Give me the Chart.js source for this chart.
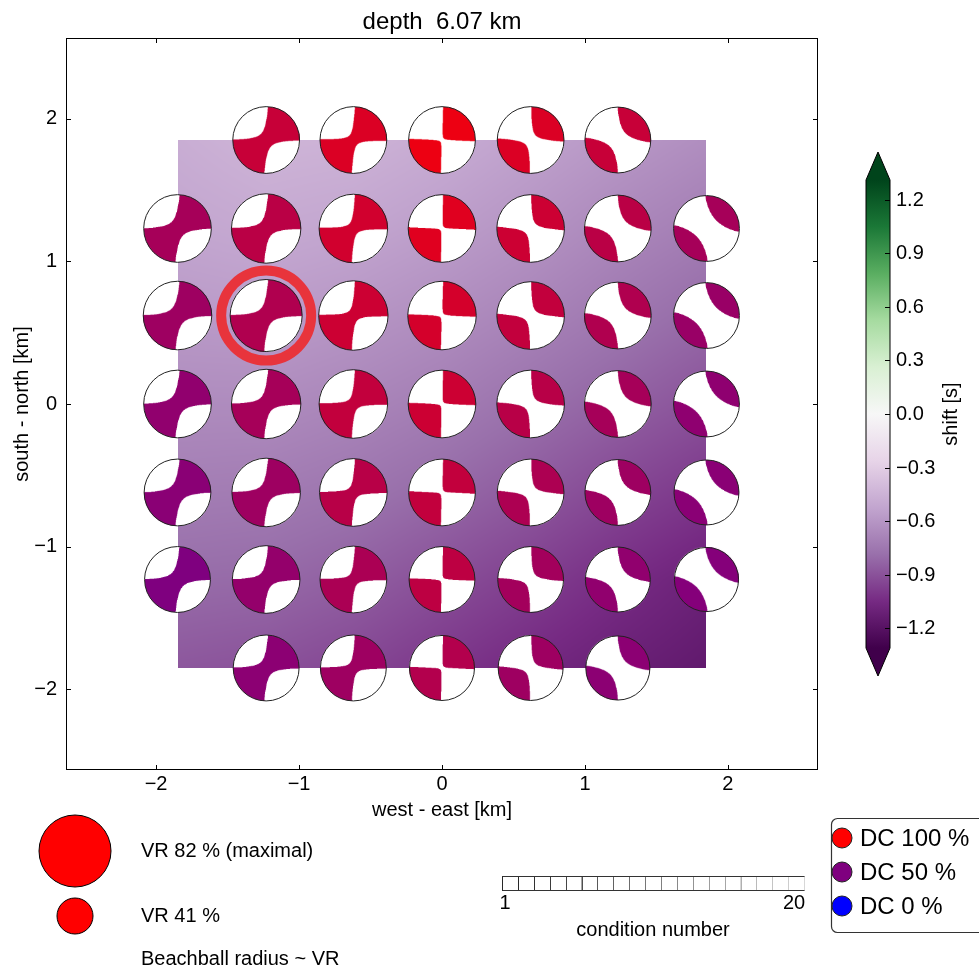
<!DOCTYPE html>
<html>
<head>
<meta charset="utf-8">
<script src="https://cdn.jsdelivr.net/npm/chart.js@4.4.1/dist/chart.umd.min.js"></script>
<style>
  html, body { margin: 0; padding: 0; background: #fff; }
  canvas { display: block; }
</style>
</head>
<body>
<canvas id="grid-search" width="979" height="971"></canvas>
<script>
// grid of trial source positions [km]
const gridX = [-1.85, -1.23, -0.62, 0, 0.62, 1.23, 1.85];
const gridY = [1.85, 1.23, 0.62, 0, -0.62, -1.23, -1.85];

// time shift at each grid point [s], rows from north to south
const shiftGrid = [
  [-0.48, -0.44, -0.45, -0.49, -0.54, -0.59, -0.64],
  [-0.52, -0.50, -0.52, -0.56, -0.61, -0.67, -0.72],
  [-0.58, -0.57, -0.60, -0.64, -0.69, -0.75, -0.81],
  [-0.65, -0.65, -0.68, -0.72, -0.78, -0.84, -0.90],
  [-0.72, -0.73, -0.76, -0.81, -0.87, -0.94, -1.00],
  [-0.80, -0.81, -0.85, -0.91, -0.97, -1.04, -1.10],
  [-0.88, -0.90, -0.94, -1.00, -1.06, -1.11, -1.15]
];

// double couple percentage of each solution (null = no beachball)
const dcPercent = [
  [null, 78, 86, 93, 86, 78, null],
  [65, 73, 82, 88, 80, 73, 65],
  [62, 69, 80, 83, 76, 69, 60],
  [57, 65, 76, 80, 72, 65, 56],
  [54, 62, 72, 76, 68, 62, 54],
  [50, 58, 67, 74, 64, 57, 52],
  [null, 55, 62, 70, 62, 55, null]
];

// non-double-couple part along the null axis (sign decides which lobes connect)
const nonDcPart = [
  [null, 0.13, 0.07, -0.01, -0.09, -0.24, null],
  [0.16, 0.13, 0.07, -0.01, -0.09, -0.25, -0.42],
  [0.16, 0.13, 0.07, -0.01, -0.09, -0.25, -0.42],
  [0.16, 0.13, 0.07, -0.01, -0.09, -0.25, -0.42],
  [0.16, 0.13, 0.07, -0.01, -0.09, -0.25, -0.42],
  [0.16, 0.13, 0.07, -0.01, -0.09, -0.25, -0.42],
  [null, 0.13, 0.07, -0.01, -0.09, -0.24, null]
];

// variance reduction [%] -> beachball radius
const varianceReduction = [
  [null, 76, 76, 76, 76, 75, null],
  [77, 79, 78, 77, 77, 76, 75],
  [78, 82, 79, 78, 77, 76, 75],
  [77, 79, 78, 77, 77, 76, 75],
  [76, 78, 77, 76, 76, 75, 74],
  [75, 77, 76, 75, 75, 74, 73],
  [null, 75, 75, 74, 74, 73, null]
];

const bestPoint = { x: -1.23, y: 0.62 };
const tAxisAzimuth = 47;      // deg from north
const maxVR = 82;
const maxRadiusKm = 0.252;

const axisTicks = [-2, -1, 0, 1, 2];
const shiftTicks = [-1.2, -0.9, -0.6, -0.3, 0, 0.3, 0.6, 0.9, 1.2];
const shiftRange = [-1.31, 1.31];
const conditionRange = [1, 20];
const vrLegend = [82, 41];
const dcLegend = [100, 50, 0];

const PRGN = [
  [64, 0, 75], [118, 42, 131], [153, 112, 171], [194, 165, 207], [231, 212, 232],
  [247, 247, 247], [217, 240, 211], [166, 219, 160], [90, 174, 97], [27, 120, 55], [0, 68, 27]
];

const FONT = '"Liberation Sans", Arial, sans-serif';
Chart.defaults.font.family = FONT;
Chart.defaults.color = '#000';

const minus = v => (v < 0 ? '\u2212' : '') + Math.abs(v);
const minus1 = v => (v < 0 ? '\u2212' : '') + Math.abs(v).toFixed(1);

const prgn = (t) => {
  t = Math.max(0, Math.min(1, t));
  const f = t * 10;
  const i = Math.min(9, Math.floor(f));
  const u = f - i;
  return PRGN[i].map((c, k) => c + (PRGN[i + 1][k] - c) * u);
};
const shiftColor = v => prgn((v - shiftRange[0]) / (shiftRange[1] - shiftRange[0]));
const dcColor = dc => [Math.round(2.55 * dc), 0, Math.round(2.55 * (100 - dc))];
const rgb = c => `rgb(${c.map(Math.round).join(',')})`;

const drawShiftField = (chart) => {
  const { ctx, scales: { x, y } } = chart;
  const n = gridX.length - 1;
  const px0 = Math.round(x.getPixelForValue(gridX[0]));
  const px1 = Math.round(x.getPixelForValue(gridX[n]));
  const py0 = Math.round(y.getPixelForValue(gridY[0]));
  const py1 = Math.round(y.getPixelForValue(gridY[n]));
  const w = px1 - px0, h = py1 - py0;
  const img = ctx.createImageData(w, h);
  for (let j = 0; j < h; j++) {
    const vy = y.getValueForPixel(py0 + j + 0.5);
    const fy = Math.max(0, Math.min(n, (gridY[0] - vy) / (gridY[0] - gridY[n]) * n));
    const r0 = Math.min(n - 1, Math.floor(fy)), uy = fy - r0;
    for (let i = 0; i < w; i++) {
      const vx = x.getValueForPixel(px0 + i + 0.5);
      const fx = Math.max(0, Math.min(n, (vx - gridX[0]) / (gridX[n] - gridX[0]) * n));
      const c0 = Math.min(n - 1, Math.floor(fx)), ux = fx - c0;
      const top = shiftGrid[r0][c0] * (1 - ux) + shiftGrid[r0][c0 + 1] * ux;
      const bot = shiftGrid[r0 + 1][c0] * (1 - ux) + shiftGrid[r0 + 1][c0 + 1] * ux;
      const col = shiftColor(top * (1 - uy) + bot * uy);
      const k = (j * w + i) * 4;
      img.data[k] = col[0]; img.data[k + 1] = col[1]; img.data[k + 2] = col[2]; img.data[k + 3] = 255;
    }
  }
  ctx.putImageData(img, px0, py0);
};

// lower hemisphere, equal area projection of a strike-slip tensor with a non-DC part
const drawBeachball = (ctx, cx, cy, R, color, nonDc) => {
  const S = Math.ceil(R * 2) * 3;
  const off = document.createElement('canvas');
  off.width = off.height = S;
  const octx = off.getContext('2d');
  const img = octx.createImageData(S, S);
  const aT = tAxisAzimuth * Math.PI / 180;
  const horiz = 0.3 * nonDc;
  for (let j = 0; j < S; j++) {
    const py = 1 - (j + 0.5) / S * 2;
    for (let i = 0; i < S; i++) {
      const px = (i + 0.5) / S * 2 - 1;
      const r2 = px * px + py * py;
      if (r2 > 1) continue;
      const inc = 2 * Math.asin(Math.sqrt(r2) / Math.SQRT2);
      const az = Math.atan2(px, py);
      const s = Math.sin(inc), c = Math.cos(inc);
      const v = s * s * (Math.cos(2 * (az - aT)) - horiz) + nonDc * c * c;
      const col = v > 0 ? color : [255, 255, 255];
      const k = (j * S + i) * 4;
      img.data[k] = col[0]; img.data[k + 1] = col[1]; img.data[k + 2] = col[2]; img.data[k + 3] = 255;
    }
  }
  octx.putImageData(img, 0, 0);
  ctx.save();
  ctx.imageSmoothingEnabled = true;
  ctx.imageSmoothingQuality = 'high';
  ctx.drawImage(off, cx - R, cy - R, 2 * R, 2 * R);
  ctx.beginPath();
  ctx.arc(cx, cy, R, 0, Math.PI * 2);
  ctx.lineWidth = 1;
  ctx.strokeStyle = '#222';
  ctx.stroke();
  ctx.restore();
};

const drawFrame = (chart) => {
  const { ctx, chartArea: a, scales: { x, y } } = chart;
  ctx.save();
  ctx.strokeStyle = '#000';
  ctx.lineWidth = 1;
  ctx.strokeRect(a.left + 0.5, a.top + 0.5, a.right - a.left - 1, a.bottom - a.top - 1);
  ctx.beginPath();
  axisTicks.forEach(v => {
    const px = Math.round(x.getPixelForValue(v)) + 0.5;
    ctx.moveTo(px, a.bottom); ctx.lineTo(px, a.bottom - 5);
    ctx.moveTo(px, a.top); ctx.lineTo(px, a.top + 5);
    const py = Math.round(y.getPixelForValue(v)) + 0.5;
    ctx.moveTo(a.left, py); ctx.lineTo(a.left + 5, py);
    ctx.moveTo(a.right, py); ctx.lineTo(a.right - 5, py);
  });
  ctx.stroke();
  // title
  ctx.fillStyle = '#000';
  ctx.font = `24px ${FONT}`;
  ctx.textAlign = 'center';
  ctx.textBaseline = 'middle';
  ctx.fillText('depth  6.07 km', (a.left + a.right) / 2, 22);
  ctx.restore();
};

const drawColorbar = (ctx) => {
  const left = 866, right = 890, top = 180, bottom = 648, tip = 28;
  const mid = (left + right) / 2;
  const yOf = v => bottom - (v - shiftRange[0]) / (shiftRange[1] - shiftRange[0]) * (bottom - top);
  ctx.save();
  const grad = ctx.createLinearGradient(0, bottom, 0, top);
  PRGN.forEach((c, i) => grad.addColorStop(i / 10, rgb(c)));
  ctx.fillStyle = grad;
  ctx.fillRect(left, top, right - left, bottom - top);
  ctx.fillStyle = rgb(PRGN[10]);
  ctx.beginPath(); ctx.moveTo(left, top); ctx.lineTo(mid, top - tip); ctx.lineTo(right, top); ctx.closePath(); ctx.fill();
  ctx.fillStyle = rgb(PRGN[0]);
  ctx.beginPath(); ctx.moveTo(left, bottom); ctx.lineTo(mid, bottom + tip); ctx.lineTo(right, bottom); ctx.closePath(); ctx.fill();
  ctx.strokeStyle = '#000';
  ctx.lineWidth = 1;
  ctx.beginPath();
  ctx.moveTo(left, top); ctx.lineTo(mid, top - tip); ctx.lineTo(right, top);
  ctx.lineTo(right, bottom); ctx.lineTo(mid, bottom + tip); ctx.lineTo(left, bottom); ctx.closePath();
  ctx.stroke();
  ctx.font = `20px ${FONT}`;
  ctx.fillStyle = '#000';
  ctx.textAlign = 'left';
  ctx.textBaseline = 'middle';
  ctx.beginPath();
  shiftTicks.forEach(v => {
    const py = Math.round(yOf(v)) + 0.5;
    ctx.moveTo(right, py); ctx.lineTo(right - 5, py);
    ctx.fillText(Math.abs(v) < 1e-9 ? '0.0' : minus1(v), 896, py);
  });
  ctx.stroke();
  ctx.translate(951, yOf(0));
  ctx.rotate(-Math.PI / 2);
  ctx.textAlign = 'center';
  ctx.fillText('shift [s]', 0, 0);
  ctx.restore();
};

const drawLegends = (ctx) => {
  ctx.save();
  ctx.fillStyle = '#000';
  ctx.textBaseline = 'middle';
  ctx.textAlign = 'left';
  // beachball size legend
  const rMax = 36;
  [[vrLegend[0], 851, `VR ${vrLegend[0]} % (maximal)`], [vrLegend[1], 916, `VR ${vrLegend[1]} %`]].forEach(([vr, cy, label]) => {
    ctx.beginPath();
    ctx.arc(75, cy, rMax * vr / maxVR, 0, Math.PI * 2);
    ctx.fillStyle = '#ff0000';
    ctx.fill();
    ctx.strokeStyle = '#000';
    ctx.lineWidth = 1;
    ctx.stroke();
    ctx.fillStyle = '#000';
    ctx.font = `20px ${FONT}`;
    ctx.fillText(label, 141, cy);
  });
  ctx.fillText('Beachball radius ~ VR', 141, 959);

  // condition number scale
  const cells = conditionRange[1] - conditionRange[0];
  const x0 = 502, x1 = 804, cy0 = 876, ch = 14;
  const cw = (x1 - x0) / cells;
  for (let i = cells - 1; i >= 0; i--) {
    const g = Math.round(40 + 175 * i / (cells - 1));
    ctx.fillStyle = '#fff';
    ctx.fillRect(x0 + i * cw, cy0, cw, ch);
    ctx.strokeStyle = `rgb(${g},${g},${g})`;
    ctx.strokeRect(Math.round(x0 + i * cw) + 0.5, cy0 + 0.5, Math.round(cw), ch);
  }
  ctx.strokeStyle = '#333';
  ctx.beginPath();
  ctx.moveTo(x0 + 0.5, cy0 + 0.5); ctx.lineTo(x1 + 0.5, cy0 + 0.5);
  ctx.moveTo(x0 + 0.5, cy0 + ch + 0.5); ctx.lineTo(x1 + 0.5, cy0 + ch + 0.5);
  ctx.stroke();
  ctx.fillStyle = '#000';
  ctx.font = `20px ${FONT}`;
  ctx.textAlign = 'center';
  ctx.fillText(String(conditionRange[0]), x0 + 3, 903);
  ctx.fillText(String(conditionRange[1]), x1 - 10, 903);
  ctx.fillText('condition number', (x0 + x1) / 2, 930);

  // DC legend
  ctx.beginPath();
  ctx.roundRect(831.5, 818.5, 170, 114, 6);
  ctx.fillStyle = '#fff';
  ctx.fill();
  ctx.strokeStyle = '#333';
  ctx.lineWidth = 1.2;
  ctx.stroke();
  ctx.textAlign = 'left';
  ctx.font = `24px ${FONT}`;
  dcLegend.forEach((dc, i) => {
    const cy = 838 + i * 34;
    ctx.beginPath();
    ctx.arc(842, cy, 10, 0, Math.PI * 2);
    ctx.fillStyle = rgb(dcColor(dc));
    ctx.fill();
    ctx.strokeStyle = '#222';
    ctx.lineWidth = 1;
    ctx.stroke();
    ctx.fillStyle = '#000';
    ctx.fillText(`DC ${dc} %`, 860, cy + 1);
  });
  ctx.restore();
};

const gridPlugin = {
  id: 'gridSearch',
  beforeDatasetsDraw(chart) {
    drawShiftField(chart);
  },
  afterDatasetsDraw(chart) {
    const { ctx, scales: { x, y } } = chart;
    gridY.forEach((gy, r) => {
      gridX.forEach((gx, c) => {
        if (dcPercent[r][c] === null) return;
        const R = x.getPixelForValue(gx + maxRadiusKm * varianceReduction[r][c] / maxVR) - x.getPixelForValue(gx);
        drawBeachball(ctx, x.getPixelForValue(gx), y.getPixelForValue(gy), R,
          dcColor(dcPercent[r][c]), nonDcPart[r][c]);
      });
    });
  },
  afterDraw(chart) {
    drawFrame(chart);
    drawColorbar(chart.ctx);
    drawLegends(chart.ctx);
  }
};

const ctx = document.getElementById('grid-search').getContext('2d');
new Chart(ctx, {
  type: 'scatter',
  data: {
    datasets: [{
      data: [bestPoint],
      pointRadius: 45,
      pointHoverRadius: 45,
      borderWidth: 10,
      borderColor: '#e8343c',
      backgroundColor: 'rgba(0,0,0,0)'
    }]
  },
  options: {
    responsive: false,
    animation: false,
    events: [],
    layout: { autoPadding: false, padding: { left: 0, right: 161, top: 38, bottom: 141 } },
    plugins: {
      legend: { display: false },
      tooltip: { enabled: false },
      title: { display: false }
    },
    scales: {
      x: {
        type: 'linear',
        min: -2.63,
        max: 2.63,
        grid: { display: false, drawTicks: false },
        border: { display: false },
        afterBuildTicks: s => { s.ticks = axisTicks.map(v => ({ value: v })); },
        afterFit: s => { s.height = 60; s.paddingLeft = 0; s.paddingRight = 0; },
        ticks: { callback: v => minus(v), font: { size: 20 }, color: '#000', padding: 2, maxRotation: 0 },
        title: { display: true, text: 'west - east [km]', color: '#000', font: { size: 20 }, padding: { top: 0, bottom: 8 } }
      },
      y: {
        type: 'linear',
        min: -2.565,
        max: 2.565,
        grid: { display: false, drawTicks: false },
        border: { display: false },
        afterBuildTicks: s => { s.ticks = axisTicks.map(v => ({ value: v })); },
        afterFit: s => { s.width = 66; s.paddingTop = 0; s.paddingBottom = 0; },
        ticks: { callback: v => minus(v), font: { size: 20 }, color: '#000', padding: 9 },
        title: { display: true, text: 'south - north [km]', color: '#000', font: { size: 20 }, padding: { top: 10, bottom: 0 } }
      }
    }
  },
  plugins: [gridPlugin]
});
</script>
</body>
</html>
